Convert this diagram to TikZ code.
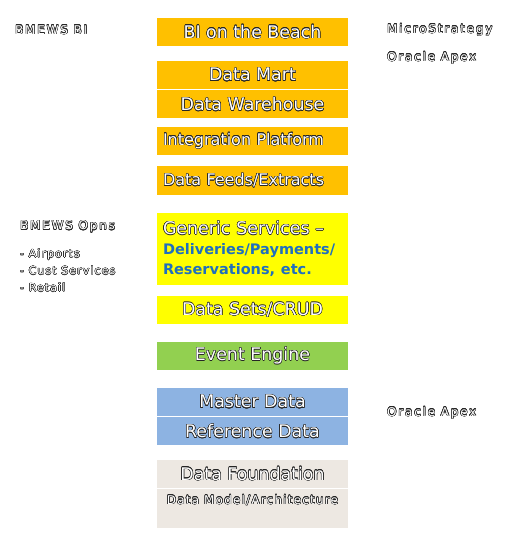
\documentclass[tikz,border=0pt]{standalone}
\usepackage{fontspec}
\setmainfont{DejaVu Sans}
\usepackage{contour}
\contourlength{0.45pt}
\usetikzlibrary{positioning}

\definecolor{gold}{HTML}{FFC000}
\definecolor{lemon}{HTML}{FFFF00}
\definecolor{leaf}{HTML}{92D050}
\definecolor{sky}{HTML}{8DB3E2}
\definecolor{sand}{HTML}{EDE8E2}
\definecolor{linkblue}{HTML}{1F6FBF}

\newcommand{\shad}[1]{\contour{black!85}{#1}}

\tikzset{
  layer/.style={minimum width=191pt, minimum height=28pt, inner sep=0pt,
    text=white, font=\fontsize{17.4}{20}\selectfont},
  lefttext/.style={text width=179pt, inner xsep=6pt, align=left},
  smaller/.style={font=\fontsize{16}{20}\selectfont},
  side/.style={anchor=west, inner sep=0pt, text=white, align=left,
    font=\fontsize{12}{17}\selectfont\addfontfeatures{LetterSpace=15}},
}

\begin{document}
\begin{tikzpicture}[x=1pt,y=-1pt]
  \useasboundingbox (0,0) rectangle (527,545);

  %% BI stack
  \node[layer, fill=gold] (beach) at (252.5,32) {\shad{BI on the Beach}};
  \node[layer, fill=gold] (mart) at (252.5,75) {\shad{Data Mart}};
  \node[layer, fill=gold, below=1pt of mart] (dwh) {\shad{Data Warehouse}};
  \node[layer, lefttext, smaller, fill=gold] (integ) at (252.5,141) {\shad{Integration Platform}};
  \node[layer, lefttext, smaller, fill=gold, minimum height=29pt] (feeds) at (252.5,180.5) {\shad{Data Feeds/Extracts}};

  %% operations stack
  \node[layer, lefttext, fill=lemon, minimum height=72pt] (generic) at (252.5,249)
    {\shad{Generic Services --}\\
     \textcolor{linkblue}{\fontsize{14.5}{20}\selectfont\bfseries Deliveries/Payments/}\\
     \textcolor{linkblue}{\fontsize{14.5}{20}\selectfont\bfseries Reservations, etc.}};
  \node[layer, fill=lemon] (crud) at (252.5,310) {\shad{Data Sets/CRUD}};
  \node[layer, fill=leaf] (events) at (252.5,356) {\shad{Event Engine}};

  %% data stack
  \node[layer, fill=sky] (master) at (252.5,402) {\shad{Master Data}};
  \node[layer, fill=sky, below=1pt of master] (refdata) {\shad{Reference Data}};
  \node[layer, fill=sand] (found) at (252.5,474) {\shad{Data Foundation}};
  \node[layer, fill=sand, anchor=north, minimum height=39pt, text height=15pt, text depth=24pt,
    font=\fontsize{12}{14}\selectfont\addfontfeatures{LetterSpace=10}] (model) at (252.5,489)
    {\shad{Data Model/Architecture}};

  %% side notes
  \node[side] (bi) at (15,30) {\shad{BMEWS BI}};
  \node[side] (opns) at (20,227) {\shad{BMEWS Opns}};
  \node[side, anchor=north west, font=\fontsize{11}{17}\selectfont\addfontfeatures{LetterSpace=10}] (units) at (20,249)
    {\shad{- Airports}\\ \shad{- Cust Services}\\ \shad{- Retail}};
  \node[side] (mstr) at (387,30) {\shad{MicroStrategy}};
  \node[side] (apex) at (387,58) {\shad{Oracle Apex}};
  \node[side] (apex2) at (387,413) {\shad{Oracle Apex}};
\end{tikzpicture}
\end{document}
